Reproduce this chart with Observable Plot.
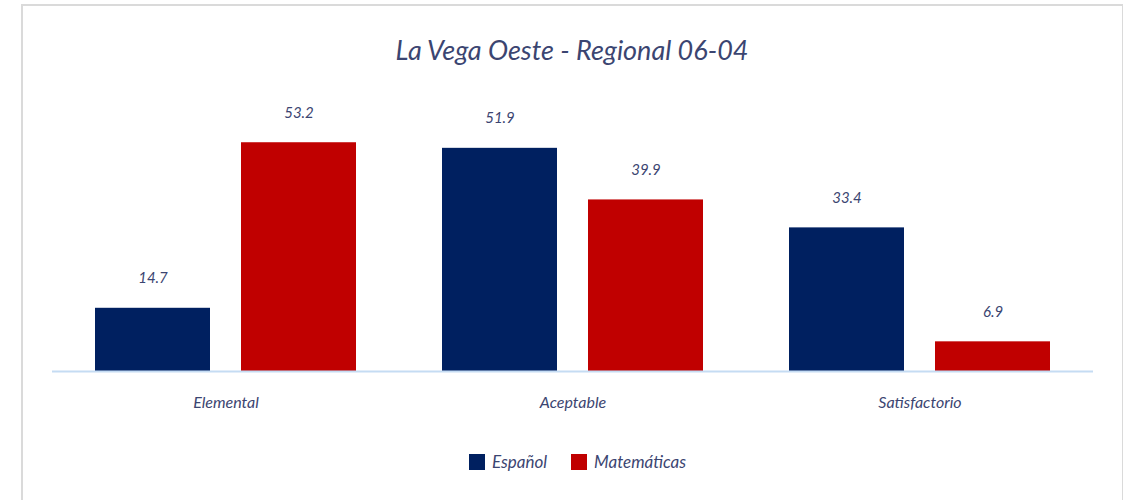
<!DOCTYPE html>
<html><head><meta charset="utf-8">
<script src="https://cdn.jsdelivr.net/npm/d3@7"></script>
<script src="https://cdn.jsdelivr.net/npm/@observablehq/plot@0.6"></script>
<style>
body{margin:0;background:#fff;width:1123px;height:500px;overflow:hidden;position:relative;font-family:Lato,"DejaVu Sans",sans-serif;}
#frame{position:absolute;left:21px;top:4px;width:1099px;height:520px;border:2px solid #dadada;}
#title{position:absolute;left:0;top:34px;width:1144px;text-align:center;font-size:27px;line-height:32px;font-style:italic;color:#3b4571;}
#chart{position:absolute;left:0;top:80px;}
#legend{position:absolute;left:0;top:451px;width:1155px;display:flex;justify-content:center;gap:24px;font-size:17px;font-style:italic;color:#3b4571;}
#legend .item{display:flex;align-items:center;gap:7px;}
#legend .sw{width:16px;height:16px;display:inline-block;}
</style></head>
<body>
<div id="frame"></div>
<div id="title">La Vega Oeste - Regional 06-04</div>
<div id="chart"></div>
<div id="legend"></div>
<script>
const categories = ["Elemental", "Aceptable", "Satisfactorio"];
const series = ["Español", "Matemáticas"];
const espanol = [14.7, 51.9, 33.4];
const matematicas = [53.2, 39.9, 6.9];
const colors = ["#002060", "#C00000"];

const values = [espanol, matematicas];
const data = [];
categories.forEach((c, i) => series.forEach((s, j) => data.push({cat: c, serie: s, value: values[j][i]})));

const textColor = "#3b4571";
const chart = Plot.plot({
  width: 1123, height: 350,
  marginLeft: 52, marginRight: 30, marginTop: 33, marginBottom: 59,
  style: {fontFamily: 'Lato, "DejaVu Sans", sans-serif', fontSize: "16px", fontStyle: "italic", color: textColor, background: "transparent"},
  facet: {data, x: "cat"},
  fx: {domain: categories, padding: 0, label: null, tickSize: 0, tickPadding: 25},
  x: {domain: series, paddingInner: 0.211, paddingOuter: 0.286, axis: null},
  y: {domain: [0, 60], axis: null},
  color: {domain: series, range: colors},
  marks: [
    Plot.barY(data, {x: "serie", y: "value", fill: "serie"}),
    Plot.ruleY([0], {stroke: "#c5dcf3", strokeWidth: 2}),
    Plot.text(data, {x: "serie", y: "value", text: d => d.value.toFixed(1), dy: -30, fill: textColor, fontSize: 15})
  ]
});
document.getElementById("chart").appendChild(chart);

const legend = document.getElementById("legend");
series.forEach((s, j) => {
  const item = document.createElement("div");
  item.className = "item";
  const sw = document.createElement("span");
  sw.className = "sw";
  sw.style.background = colors[j];
  const lab = document.createElement("span");
  lab.textContent = s;
  item.appendChild(sw); item.appendChild(lab);
  legend.appendChild(item);
});
</script>
</body></html>
